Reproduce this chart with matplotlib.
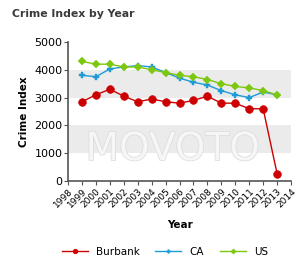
import numpy as np
import matplotlib
matplotlib.use("Agg")
import matplotlib.pyplot as plt
from matplotlib import patheffects

years = list(range(1999, 2014))
burbank = [2850, 3100, 3300, 3050, 2850, 2950, 2850, 2800, 2900, 3050, 2800, 2800, 2600, 2600, 270]
ca = [3800, 3750, 4030, 4100, 4150, 4100, 3900, 3700, 3550, 3450, 3250, 3100, 3000, 3200, 3100]
us = [4300, 4200, 4200, 4100, 4100, 4000, 3900, 3800, 3750, 3650, 3500, 3400, 3350, 3250, 3100]
tick_years = list(range(1998, 2015))

fig = plt.figure(figsize=(3.0, 2.74), dpi=100)
ax = fig.add_axes([0.227, 0.339, 0.743, 0.508])

# 背景の帯
for lo, hi in [(1000, 2000), (3000, 4000)]:
    ax.axhspan(lo, hi, color="#ebebeb", zorder=0, lw=0)

# ウォーターマーク
ax.text(2005.5, 1150, "MOVOTO", fontsize=28, ha="center", va="center",
        color="#f6f6f6", zorder=1,
        path_effects=[patheffects.withStroke(linewidth=1.0, foreground="#dadada")])

ax.plot(years, burbank, color="#cc0000", marker="o", ms=5.5, mew=0.5, lw=1, label="Burbank", zorder=3)
ax.plot(years, ca, color="#1e9bd7", marker="P", ms=4.5, mew=0.3, lw=1, label="CA", zorder=4)
ax.plot(years, us, color="#7dc80e", marker="D", ms=4.5, mew=0.3, lw=1, label="US", zorder=5)

ax.set_xlim(1998, 2014)
ax.set_ylim(0, 5000)
ax.set_xticks(tick_years)
ax.set_xticklabels([str(y) for y in tick_years], rotation=45, ha="right",
                   rotation_mode="anchor", fontsize=6.5)
ax.set_yticks(range(0, 5001, 1000))
ax.tick_params(axis="y", labelsize=8, length=3, color="#555555", pad=1)
ax.tick_params(axis="x", length=3, color="#555555", pad=1)
for s in ["top", "right"]:
    ax.spines[s].set_visible(False)
for s in ["left", "bottom"]:
    ax.spines[s].set_color("#555555")
    ax.spines[s].set_linewidth(1.2)

ax.set_ylabel("Crime Index", fontsize=7.5, fontweight="bold", labelpad=4)
ax.set_xlabel("Year", fontsize=7.5, fontweight="bold", labelpad=8)

fig.text(0.04, 0.95, "Crime Index by Year", fontsize=7.8, fontweight="bold",
         color="#3a3a3a", va="center")

fig.legend(loc="center", bbox_to_anchor=(0.55, 0.08), ncol=3, frameon=False,
           fontsize=7.5, handlelength=2.5, columnspacing=1.5, markerscale=0.6)

fig.savefig("out.png", dpi=100)
